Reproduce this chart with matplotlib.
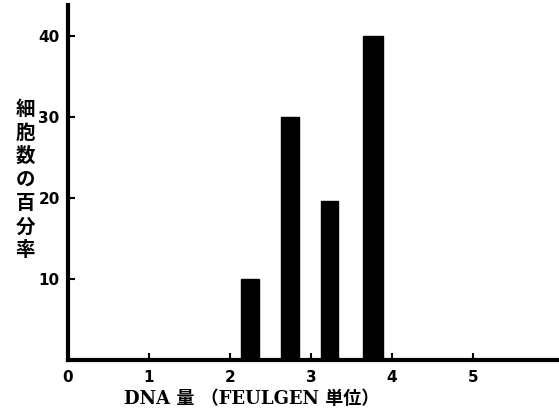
import matplotlib.pyplot as plt

# bar data
dna_amount = [2.25, 2.74, 3.23, 3.77]
cell_pct = [10, 30, 19.6, 40]
bar_widths = [0.22, 0.22, 0.21, 0.25]
x_ticks = [0, 1, 2, 3, 4, 5]
y_ticks = [10, 20, 30, 40]

fig = plt.figure(figsize=(5.59, 4.17), dpi=100)
ax = fig.add_axes([0.1216, 0.137, 0.878, 0.851])

ax.bar(dna_amount, cell_pct, width=bar_widths, color='black', edgecolor='black')

ax.set_xlim(0, 6.06)
ax.set_ylim(0, 43.8)
ax.set_xticks(x_ticks)
ax.set_yticks(y_ticks)
ax.tick_params(direction='in', length=5, width=1.5, labelsize=11)
ax.tick_params(axis='x', pad=7)
ax.tick_params(axis='y', pad=6)
for lab in ax.get_xticklabels() + ax.get_yticklabels():
    lab.set_fontweight('bold')

for s in ['top', 'right']:
    ax.spines[s].set_visible(False)
ax.spines['left'].set_linewidth(3)
ax.spines['bottom'].set_linewidth(3)

ax.set_xlabel('DNA 量 （FEULGEN 単位）', family=['DejaVu Serif', 'Noto Sans CJK JP'],
              fontweight='bold', fontsize=13, labelpad=4, x=0.375)

fig.text(0.045, 0.568, '\n'.join('細胞数の百分率'), family=['Noto Sans CJK JP'],
         fontsize=14, fontweight='bold', ha='center', va='center', linespacing=1.3)

fig.savefig('out.png', dpi=100)
